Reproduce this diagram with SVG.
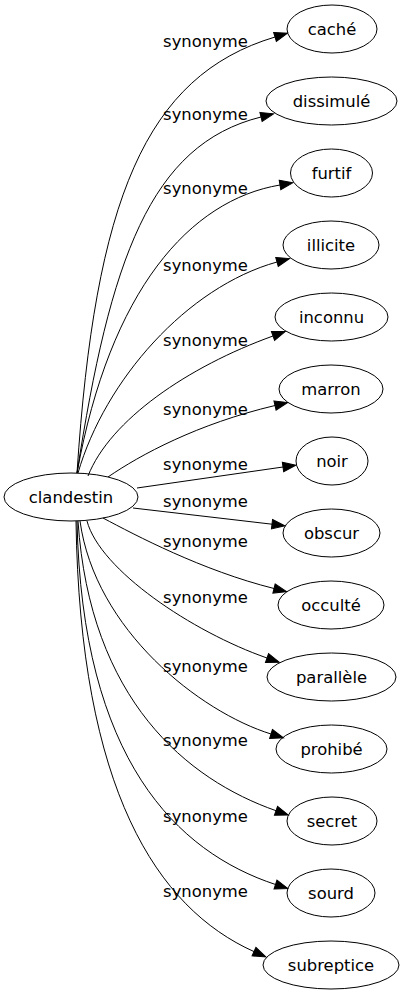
<svg xmlns="http://www.w3.org/2000/svg" width="404" height="995" viewBox="0 0 404 995">
<style>
.n ellipse{fill:none;stroke:#000;stroke-width:1}
text{font-family:"DejaVu Sans",sans-serif;font-size:16.4px;fill:#000;text-anchor:middle}
.e path{fill:none;stroke:#000;stroke-width:1;marker-end:url(#arr)}
</style>
<defs>
<marker id="arr" markerUnits="userSpaceOnUse" markerWidth="14" markerHeight="10" refX="0" refY="5" orient="auto" overflow="visible">
<path d="M0,0.3 L13,5 L0,9.7 z" fill="#000" stroke="#000" stroke-width="1"/>
</marker>
</defs>
<rect width="404" height="995" fill="#fff"/>
<g id="edges" class="e">
<path d="M77,473 C95,200 145,76 275,37"/>
<path d="M77,473 C110,260 150,144.5 261,117"/>
<path d="M77,473 C110,290 190,200 280,185"/>
<path d="M78,473 C105,380 187,287 277,262"/>
<path d="M88,476 C110,420 188,366.6 273,336"/>
<path d="M108,477 C140,455 197,424 275,405.5"/>
<path d="M137,488 L283,467"/>
<path d="M133,508 L272,524.2"/>
<path d="M103,518 C135,535 202,570.5 274,588.5"/>
<path d="M87,521 C100,570 192,631.75 267,658"/>
<path d="M80,521 C95,630 200,712 271,734"/>
<path d="M78,521 C90,700 187,779.5 276,810.7"/>
<path d="M77,521 C82,760 177,852 275.5,884.5"/>
<path d="M76,521 C80,790 157,908 254,951.6"/>
</g>
<g id="labels">
<text x="205.5" y="46.5">synonyme</text>
<text x="205.5" y="120">synonyme</text>
<text x="205.5" y="193.5">synonyme</text>
<text x="205.5" y="271">synonyme</text>
<text x="205.5" y="346">synonyme</text>
<text x="205.5" y="415">synonyme</text>
<text x="205.5" y="470">synonyme</text>
<text x="205.5" y="507">synonyme</text>
<text x="205.5" y="546.5">synonyme</text>
<text x="205.5" y="603">synonyme</text>
<text x="205.5" y="671.5">synonyme</text>
<text x="205.5" y="746">synonyme</text>
<text x="205.5" y="821.5">synonyme</text>
<text x="205.5" y="896.5">synonyme</text>
</g>
<g id="clandestin" class="n"><ellipse cx="71" cy="497" rx="67" ry="24"/><text x="71" y="503">clandestin</text></g>
<g id="cache" class="n"><ellipse cx="332" cy="29" rx="45" ry="24"/><text x="332" y="35">caché</text></g>
<g id="dissimule" class="n"><ellipse cx="331.5" cy="101" rx="65.5" ry="24"/><text x="331.5" y="107">dissimulé</text></g>
<g id="furtif" class="n"><ellipse cx="331.5" cy="173" rx="41" ry="24"/><text x="331.5" y="179">furtif</text></g>
<g id="illicite" class="n"><ellipse cx="331" cy="245" rx="48" ry="24"/><text x="331" y="251">illicite</text></g>
<g id="inconnu" class="n"><ellipse cx="331.5" cy="317" rx="56.5" ry="24"/><text x="331.5" y="323">inconnu</text></g>
<g id="marron" class="n"><ellipse cx="331" cy="389" rx="52" ry="24"/><text x="331" y="395">marron</text></g>
<g id="noir" class="n"><ellipse cx="332" cy="461" rx="36" ry="24"/><text x="332" y="467">noir</text></g>
<g id="obscur" class="n"><ellipse cx="331.5" cy="533" rx="48.5" ry="24"/><text x="331.5" y="539">obscur</text></g>
<g id="occulte" class="n"><ellipse cx="331" cy="605" rx="53" ry="24"/><text x="331" y="611">occulté</text></g>
<g id="parallele" class="n"><ellipse cx="331.5" cy="677" rx="64.5" ry="24"/><text x="331.5" y="683">parallèle</text></g>
<g id="prohibe" class="n"><ellipse cx="331.5" cy="749" rx="55.5" ry="24"/><text x="331.5" y="755">prohibé</text></g>
<g id="secret" class="n"><ellipse cx="332" cy="821" rx="45" ry="24"/><text x="332" y="827">secret</text></g>
<g id="sourd" class="n"><ellipse cx="331" cy="893" rx="44" ry="24"/><text x="331" y="899">sourd</text></g>
<g id="subreptice" class="n"><ellipse cx="331" cy="965" rx="68" ry="24"/><text x="331" y="971">subreptice</text></g>
</svg>
